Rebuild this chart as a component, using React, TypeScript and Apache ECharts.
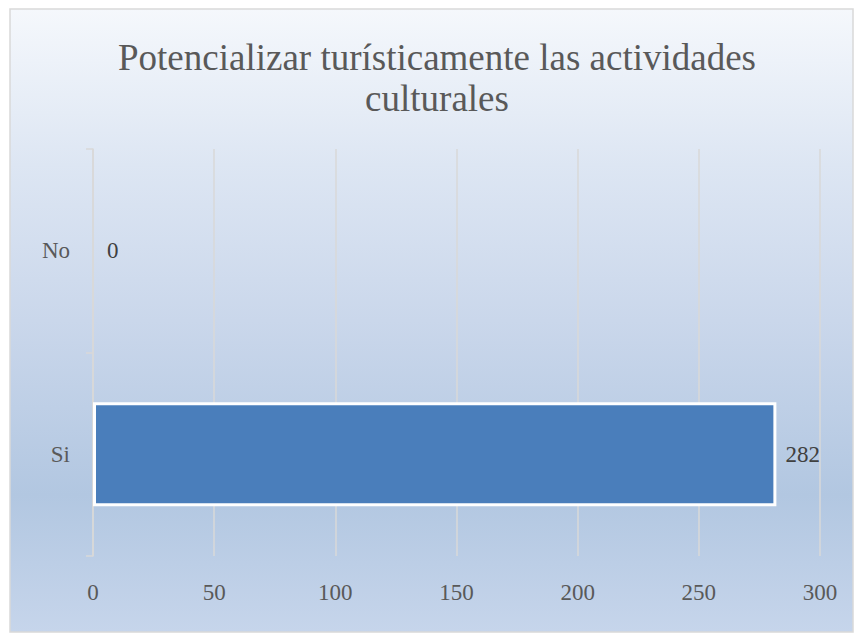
import React, { useEffect, useRef } from "react";
import * as echarts from "echarts";

const categories = ["Si", "No"];
const values = [282, 0];
const xTicks = { min: 0, max: 300, interval: 50 };
const titleText = "Potencializar turísticamente las actividades\nculturales";

export default function App() {
  const ref = useRef<HTMLDivElement>(null);
  useEffect(() => {
    if (!ref.current) return;
    const chart = echarts.init(ref.current, null, { renderer: "svg" });
    const font = '"Times New Roman", "Liberation Serif", "DejaVu Serif", serif';
    chart.setOption({
      animation: false,
      backgroundColor: "#ffffff",
      graphic: [
        {
          type: "rect",
          z: -10,
          silent: true,
          shape: { x: 10, y: 9, width: 843, height: 623 },
          style: {
            fill: new echarts.graphic.LinearGradient(0, 0, 0, 1, [
              { offset: 0, color: "#f5f8fc" },
              { offset: 0.25, color: "#dde6f3" },
              { offset: 0.5, color: "#cad7eb" },
              { offset: 0.78, color: "#b2c7e1" },
              { offset: 1, color: "#c6d5eb" },
            ]),
            stroke: "#d9d9d9",
            lineWidth: 1.5,
          },
        },
      ],
      title: {
        text: titleText,
        left: 432,
        textAlign: "center",
        top: 32,
        textStyle: {
          fontFamily: font,
          fontSize: 37,
          fontWeight: "normal",
          color: "#595959",
          lineHeight: 41,
        },
      },
      grid: { left: 93, right: 34, top: 149, bottom: 77, containLabel: false },
      xAxis: {
        type: "value",
        min: xTicks.min,
        max: xTicks.max,
        interval: xTicks.interval,
        axisLine: { show: false },
        axisTick: { show: false },
        splitLine: { show: true, lineStyle: { color: "#d9d9d9", width: 1.5 } },
        axisLabel: { fontFamily: font, fontSize: 23, color: "#595959", margin: 25 },
      },
      yAxis: {
        type: "category",
        data: categories,
        axisLine: { show: true, lineStyle: { color: "#d9d9d9", width: 1.5 } },
        axisTick: { show: true, length: 7, lineStyle: { color: "#d9d9d9", width: 1.5 } },
        axisLabel: { fontFamily: font, fontSize: 23, color: "#595959", margin: 23 },
      },
      series: [
        {
          type: "bar",
          barCategoryGap: "49%",
          data: values.map((v) =>
            v === 0
              ? { value: v, itemStyle: { borderWidth: 0 }, label: { distance: 14 } }
              : v
          ),
          itemStyle: { color: "#4a7ebb", borderColor: "#ffffff", borderWidth: 3 },
          label: {
            show: true,
            position: "right",
            distance: 9,
            fontFamily: font,
            fontSize: 23,
            color: "#404040",
          },
        },
      ],
    });
    return () => chart.dispose();
  }, []);
  return (
    <div
      ref={ref}
      style={{ position: "fixed", left: 0, top: 0, width: 854, height: 633 }}
    />
  );
}
